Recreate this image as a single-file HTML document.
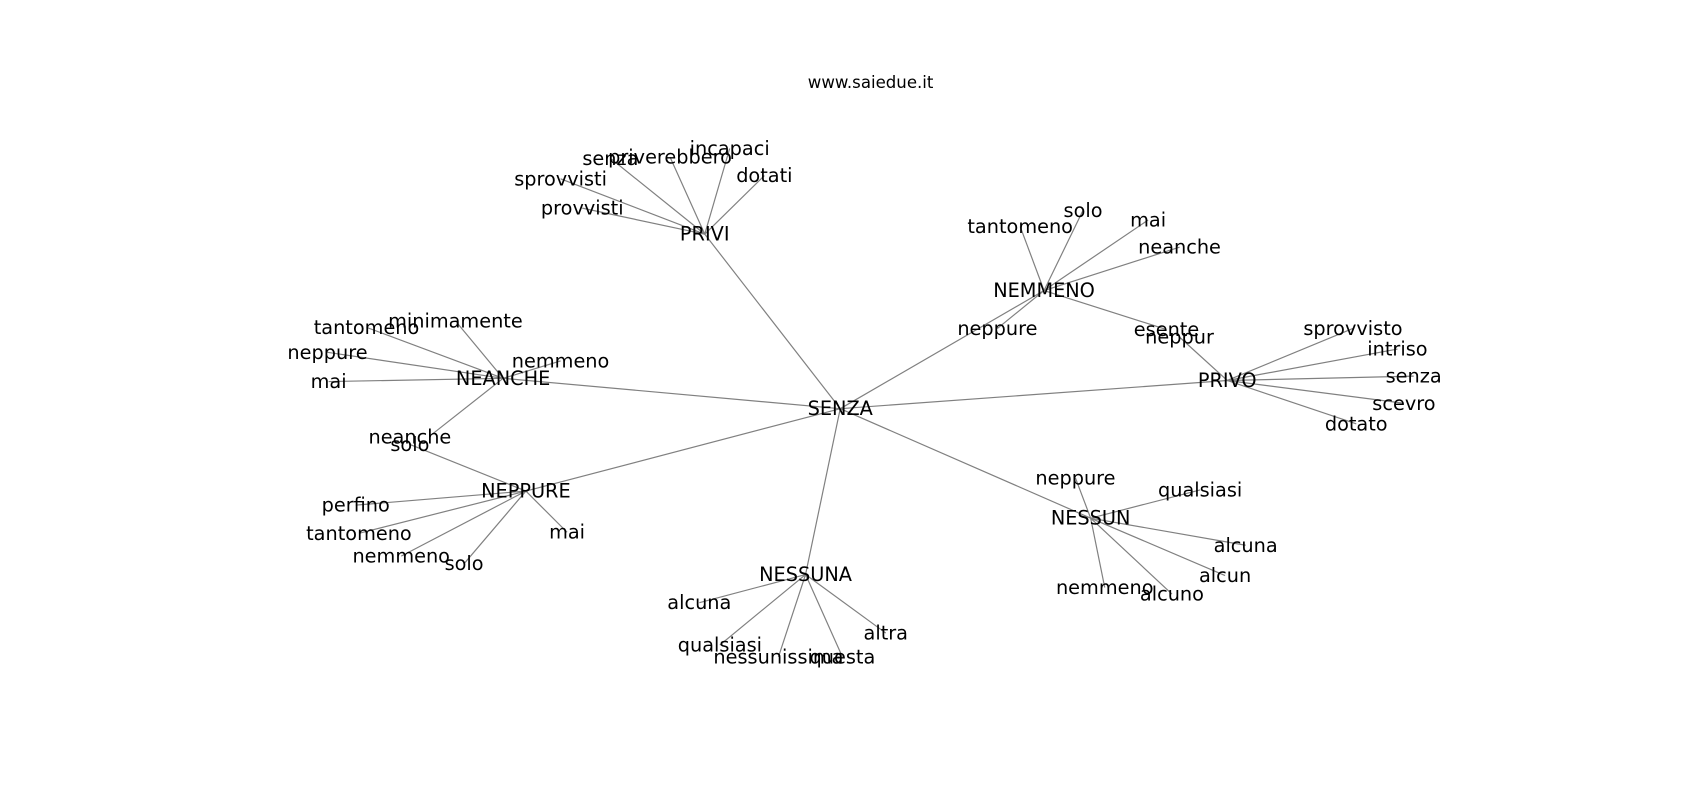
<!DOCTYPE html>
<html><head><meta charset="utf-8"><style>
html,body{margin:0;padding:0;background:#fff;}
svg{display:block;}
text{font-family:"DejaVu Sans","Liberation Sans",sans-serif;font-size:17.8px;fill:#000;text-anchor:middle;dominant-baseline:central;}
line{stroke:#808080;stroke-width:1.1;}
</style></head><body>
<svg width="1700" height="800" viewBox="0 0 1568 738" xmlns="http://www.w3.org/2000/svg">
<g>
<line x1="775" y1="377" x2="650" y2="216"/>
<line x1="775" y1="377" x2="963" y2="268"/>
<line x1="775" y1="377" x2="1132" y2="351"/>
<line x1="775" y1="377" x2="1006" y2="478"/>
<line x1="775" y1="377" x2="743" y2="530"/>
<line x1="775" y1="377" x2="485" y2="453"/>
<line x1="775" y1="377" x2="464" y2="349"/>
<line x1="650" y1="216" x2="563" y2="146"/>
<line x1="650" y1="216" x2="618" y2="145"/>
<line x1="650" y1="216" x2="673" y2="137"/>
<line x1="650" y1="216" x2="705" y2="162"/>
<line x1="650" y1="216" x2="517" y2="165"/>
<line x1="650" y1="216" x2="537" y2="192"/>
<line x1="963" y1="268" x2="941" y2="209"/>
<line x1="963" y1="268" x2="999" y2="194"/>
<line x1="963" y1="268" x2="1059" y2="203"/>
<line x1="963" y1="268" x2="1088" y2="228"/>
<line x1="963" y1="268" x2="920" y2="303"/>
<line x1="963" y1="268" x2="1076" y2="304"/>
<line x1="1132" y1="351" x2="1088" y2="311"/>
<line x1="1132" y1="351" x2="1248" y2="303"/>
<line x1="1132" y1="351" x2="1289" y2="322"/>
<line x1="1132" y1="351" x2="1304" y2="347"/>
<line x1="1132" y1="351" x2="1295" y2="372"/>
<line x1="1132" y1="351" x2="1251" y2="391"/>
<line x1="1006" y1="478" x2="992" y2="441"/>
<line x1="1006" y1="478" x2="1107" y2="452"/>
<line x1="1006" y1="478" x2="1149" y2="503"/>
<line x1="1006" y1="478" x2="1130" y2="531"/>
<line x1="1006" y1="478" x2="1081" y2="548"/>
<line x1="1006" y1="478" x2="1019" y2="542"/>
<line x1="743" y1="530" x2="645" y2="556"/>
<line x1="743" y1="530" x2="664" y2="595"/>
<line x1="743" y1="530" x2="718" y2="606"/>
<line x1="743" y1="530" x2="777" y2="606"/>
<line x1="743" y1="530" x2="817" y2="584"/>
<line x1="485" y1="453" x2="328" y2="466"/>
<line x1="485" y1="453" x2="331" y2="492"/>
<line x1="485" y1="453" x2="370" y2="513"/>
<line x1="485" y1="453" x2="428" y2="520"/>
<line x1="485" y1="453" x2="523" y2="491"/>
<line x1="485" y1="453" x2="378" y2="410"/>
<line x1="464" y1="349" x2="420" y2="296"/>
<line x1="464" y1="349" x2="338" y2="302"/>
<line x1="464" y1="349" x2="302" y2="325"/>
<line x1="464" y1="349" x2="303" y2="352"/>
<line x1="464" y1="349" x2="517" y2="333"/>
<line x1="464" y1="349" x2="398" y2="401"/>
</g>
<text x="803" y="76" style="font-size:15.3px">www.saiedue.it</text>
<text x="775" y="377">SENZA</text>
<text x="650" y="216">PRIVI</text>
<text x="563" y="146">senza</text>
<text x="618" y="145">priverebbero</text>
<text x="673" y="137">incapaci</text>
<text x="705" y="162">dotati</text>
<text x="517" y="165">sprovvisti</text>
<text x="537" y="192">provvisti</text>
<text x="963" y="268">NEMMENO</text>
<text x="941" y="209">tantomeno</text>
<text x="999" y="194">solo</text>
<text x="1059" y="203">mai</text>
<text x="1088" y="228">neanche</text>
<text x="920" y="303">neppure</text>
<text x="1076" y="304">esente</text>
<text x="1132" y="351">PRIVO</text>
<text x="1088" y="311">neppur</text>
<text x="1248" y="303">sprovvisto</text>
<text x="1289" y="322">intriso</text>
<text x="1304" y="347">senza</text>
<text x="1295" y="372">scevro</text>
<text x="1251" y="391">dotato</text>
<text x="1006" y="478">NESSUN</text>
<text x="992" y="441">neppure</text>
<text x="1107" y="452">qualsiasi</text>
<text x="1149" y="503">alcuna</text>
<text x="1130" y="531">alcun</text>
<text x="1081" y="548">alcuno</text>
<text x="1019" y="542">nemmeno</text>
<text x="743" y="530">NESSUNA</text>
<text x="645" y="556">alcuna</text>
<text x="664" y="595">qualsiasi</text>
<text x="718" y="606">nessunissima</text>
<text x="777" y="606">questa</text>
<text x="817" y="584">altra</text>
<text x="485" y="453">NEPPURE</text>
<text x="328" y="466">perfino</text>
<text x="331" y="492">tantomeno</text>
<text x="370" y="513">nemmeno</text>
<text x="428" y="520">solo</text>
<text x="523" y="491">mai</text>
<text x="378" y="410">solo</text>
<text x="464" y="349">NEANCHE</text>
<text x="420" y="296">minimamente</text>
<text x="338" y="302">tantomeno</text>
<text x="302" y="325">neppure</text>
<text x="303" y="352">mai</text>
<text x="517" y="333">nemmeno</text>
<text x="378" y="403">neanche</text>
</svg>
</body></html>
